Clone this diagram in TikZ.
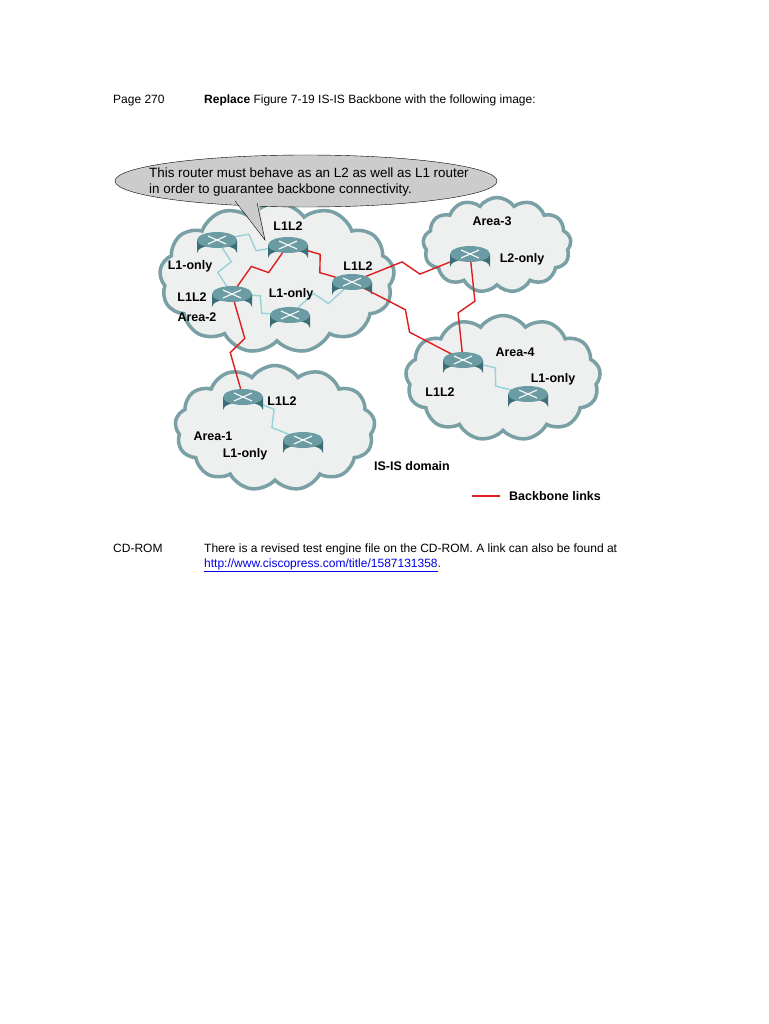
\documentclass[tikz,border=0pt]{standalone}
\usepackage{fontspec}
\setmainfont{Liberation Sans}
\usetikzlibrary{shapes.symbols,shapes.geometric,calc}
\definecolor{teal1}{RGB}{70,130,140}
\definecolor{cldfill}{RGB}{238,240,240}
\definecolor{cldline}{RGB}{120,160,165}
\definecolor{l1link}{RGB}{150,210,215}
\definecolor{bbred}{RGB}{220,30,30}
\definecolor{lnk}{RGB}{0,0,230}
\tikzset{
  area/.style={cloud, cloud puffs=13, cloud puff arc=110, draw=cldline, line width=3.5pt, fill=cldfill, inner sep=0pt},
  zz/.style={to path={-- ($(\tikztostart)!0.44!(\tikztotarget)!8pt!90:(\tikztotarget)$) -- ($(\tikztostart)!0.56!(\tikztotarget)!8pt!-90:(\tikztotarget)$) -- (\tikztotarget)}},
  bb/.style={draw=bbred, line width=1.4pt, line join=miter},
  l1/.style={draw=l1link, line width=1.4pt},
  lab/.style={font=\bfseries\fontsize{12.5}{14}\selectfont, inner sep=1pt},
  txt/.style={font=\fontsize{12}{14}\selectfont, anchor=base west, inner sep=0pt}
}
\newcommand{\rtr}[1]{%
  \begin{scope}[shift={(#1)}]
    \fill[teal1!85!black] (-20,0) -- (-20,13) arc[start angle=180,end angle=360,x radius=20,y radius=8] -- (20,0) -- cycle;
    \fill[teal1!80!white] (0,0) ellipse[x radius=20, y radius=8];
    \draw[white, line width=1.1pt] (-9,-4) -- (9,4) (-9,4) -- (9,-4);
  \end{scope}}
\begin{document}
\begin{tikzpicture}[x=1pt,y=-1pt]
\useasboundingbox (0,0) rectangle (768,1024);
\fill[white] (0,0) rectangle (768,1024);
% header
\node[txt] (pg) at (113,104) {Page 270};
\node[txt] (rep) at (204,104) {\textbf{Replace} Figure 7-19 IS-IS Backbone with the following image:};
% clouds
\node[area, minimum width=235pt, minimum height=150pt] (c2) at (277,278) {};
\node[area, minimum width=148pt, minimum height=95pt] (c3) at (497,245) {};
\node[area, minimum width=195pt, minimum height=125pt] (c4) at (503,378) {};
\node[area, minimum width=200pt, minimum height=125pt] (c1) at (275,428) {};
% callout
\node[ellipse, draw=black, fill=gray!40, minimum width=382pt, minimum height=52pt] (bub) at (306,181) {};
\fill[gray!40] (235,200) -- (265,240) -- (258,198) -- cycle;
\draw (235,201) -- (265,240) -- (257,203);
\node[font=\fontsize{13.4}{15.5}\selectfont, align=left, anchor=west, inner sep=0pt] (bubt) at (149,182) {This router must behave as an L2 as well as L1 router\\in order to guarantee backbone connectivity.};
% router positions
\coordinate (a2o) at (217,240);
\coordinate (a2t) at (288,245);
\coordinate (a2r) at (352,282);
\coordinate (a2l) at (232,294);
\coordinate (a2b) at (290,315);
\coordinate (a3) at (470,254);
\coordinate (a4l) at (463,360);
\coordinate (a4o) at (528,394);
\coordinate (a1l) at (243,397);
\coordinate (a1o) at (303,440);
% L1 links
\draw[l1] (a2o) to[zz] (a2t);
\draw[l1] (a2o) to[zz] (a2l);
\draw[l1] (a2l) to[zz] (a2b);
\draw[l1] (a2b) to[zz] (a2r);
\draw[l1] (a4l) to[zz] (a4o);
\draw[l1] (a1l) to[zz] (a1o);
% backbone
\draw[bb] (a2l) to[zz] (a2t);
\draw[bb] (a2t) to[zz] (a2r);
\draw[bb] (a2r) to[zz] (a3);
\draw[bb] (a2r) to[zz] (a4l);
\draw[bb] (a3) to[zz] (a4l);
\draw[bb] (a2l) to[zz] (a1l);
% routers
\foreach \r in {a2o,a2t,a2r,a2l,a2b,a3,a4l,a4o,a1l,a1o} {\rtr{\r}}
% labels
\node[lab] (t1) at (288,226) {L1L2};
\node[lab] (t2) at (190,266) {L1-only};
\node[lab] (t3) at (358,266) {L1L2};
\node[lab] (t4) at (192,297) {L1L2};
\node[lab] (t5) at (197,317) {Area-2};
\node[lab] (t6) at (291,294) {L1-only};
\node[lab] (t7) at (492,221) {Area-3};
\node[lab] (t8) at (522,259) {L2-only};
\node[lab] (t9) at (515,352) {Area-4};
\node[lab] (t10) at (553,379) {L1-only};
\node[lab] (t11) at (440,392) {L1L2};
\node[lab] (t12) at (282,401) {L1L2};
\node[lab] (t13) at (213,436) {Area-1};
\node[lab] (t14) at (245,454) {L1-only};
\node[lab] (t15) at (412,466) {IS-IS domain};
% legend
\coordinate (lg1) at (472,496);
\coordinate (lg2) at (500,496);
\draw[bb] (lg1) -- (lg2);
\node[lab, anchor=west] (lgt) at (508,496) {Backbone links};
% footer
\node[txt] (cd) at (113,552) {CD-ROM};
\node[txt] (cdt) at (204,552) {There is a revised test engine file on the CD-ROM. A link can also be found at};
\node[txt] (url) at (204,567) {\textcolor{lnk}{\underline{http://www.ciscopress.com/title/1587131358}}.};
\end{tikzpicture}
\end{document}
